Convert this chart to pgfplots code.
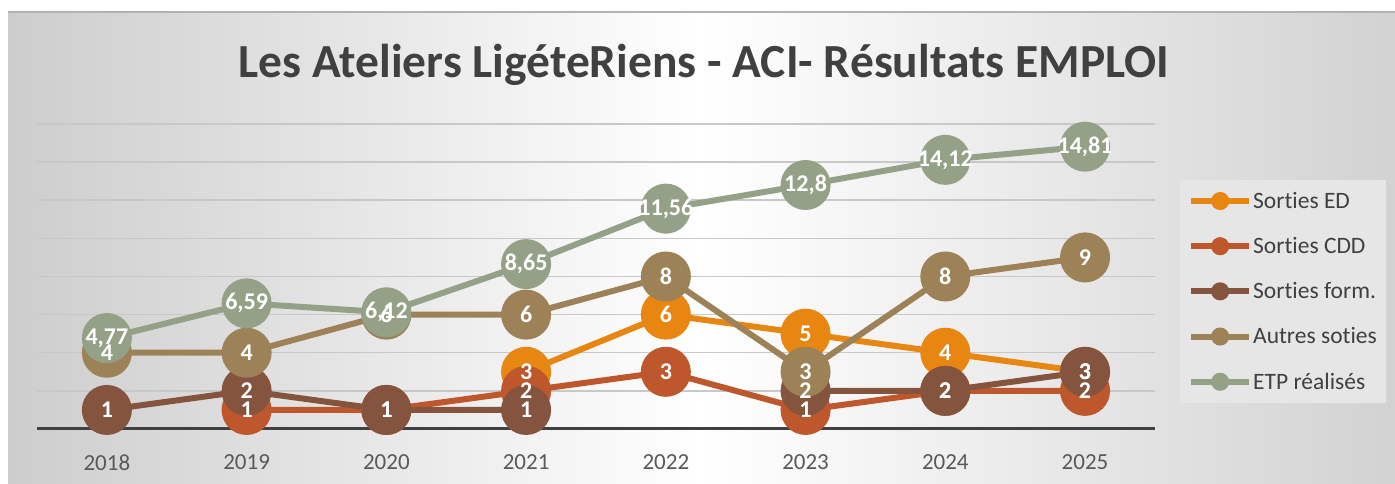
\documentclass[border=0pt]{standalone}
\usepackage{fontspec}
\setmainfont{Carlito}[Ligatures=NoCommon]
\usepackage{pgfplots}
\usepackage{pgfplotstable}
\pgfplotsset{compat=1.18}
\definecolor{cED}{RGB}{232,134,18}
\definecolor{cCDD}{RGB}{190,88,44}
\definecolor{cForm}{RGB}{133,84,62}
\definecolor{cAut}{RGB}{156,130,86}
\definecolor{cETP}{RGB}{148,161,135}
\definecolor{txt}{RGB}{64,64,64}
\definecolor{tickc}{RGB}{89,89,89}
\definecolor{bgl}{RGB}{205,205,205}
\definecolor{bgr}{RGB}{210,210,210}
\definecolor{legf}{RGB}{230,230,230}
\definecolor{gridc}{RGB}{200,200,200}
\pgfplotstableread{
x y
3 3
4 6
5 5
6 4
7 3
}\tED
\pgfplotstableread{
x y
1 1
2 1
3 2
4 3
5 1
6 2
7 2
}\tCDD
\pgfplotstableread{
x y
0 1
1 2
2 1
3 1
4 nan
5 2
6 2
7 3
}\tForm
\pgfplotstableread{
x y
0 4
1 4
2 6
3 6
4 8
5 3
6 8
7 9
}\tAut
\pgfplotstableread{
x y
0 4.77
1 6.59
2 6.12
3 8.65
4 11.56
5 12.8
6 14.12
7 14.81
}\tETP
\begin{document}
\begin{tikzpicture}
\useasboundingbox (0,0) rectangle (1395pt,484pt);
\fill[white] (0,0) rectangle (1395pt,484pt);
\shade[left color=bgl, right color=bgr, middle color=white] (8pt,0) rectangle (1395pt,472pt);
\draw[gray!60, line width=1.5pt] (8pt,472pt) -- (1395pt,472pt);
\node[font=\bfseries\fontsize{47.5}{56}\selectfont, text=txt] at (704pt,419pt) {Les Ateliers LigéteRiens - ACI- Résultats EMPLOI};
\begin{axis}[
  scale only axis, width=1118pt, height=305pt,
  at={(37pt,55pt)}, anchor=south west,
  xmin=-0.5, xmax=7.5, ymin=0, ymax=16,
  clip=false,
  axis x line*=bottom, axis y line*=left,
  x axis line style={draw=txt, line width=3pt, -},
  y axis line style={draw=none},
  xtick={0,...,7}, xticklabels={2018,2019,2020,2021,2022,2023,2024,2025},
  ytick={2,4,...,16}, yticklabels={},
  major tick length=0pt,
  ymajorgrids, grid style={draw=gridc, line width=1.5pt},
  xticklabel style={font=\fontsize{23}{27}\selectfont, text=tickc, yshift=-22pt},
  unbounded coords=jump,
  every axis plot/.append style={line width=6pt, mark=*, mark size=22pt, mark options={draw=none}},
  every node near coord/.append style={anchor=center, font=\bfseries\fontsize{24}{28}\selectfont, text=white},
  /pgf/number format/use comma, /pgf/number format/assume math mode=true,
  legend style={at={(1.0224,0.8164)}, anchor=north west, draw=none, fill=legf,
    font=\fontsize{23.5}{28}\selectfont, text=txt, row sep=23.5pt,
    inner xsep=8pt, inner ysep=10pt, nodes={inner xsep=1pt, inner ysep=2pt}},
  legend cell align=left,
  legend image code/.code={
    \draw[#1, mark size=6pt, mark repeat=2, mark phase=2] plot coordinates {(0pt,0pt) (29pt,0pt) (58pt,0pt)};
  },
]
\addplot[color=cED] table {\tED};
\addlegendentry{Sorties ED}
\addplot[color=cCDD] table {\tCDD};
\addlegendentry{Sorties CDD}
\addplot[color=cForm] table {\tForm};
\addlegendentry{Sorties form.}
\addplot[color=cAut] table {\tAut};
\addlegendentry{Autres soties}
\addplot[color=cETP] table {\tETP};
\addlegendentry{ETP réalisés}
% data labels drawn on top of all series
\addplot[draw=none, mark=none, nodes near coords, forget plot] table {\tED};
\addplot[draw=none, mark=none, nodes near coords, forget plot] table {\tCDD};
\addplot[draw=none, mark=none, nodes near coords, forget plot] table {\tForm};
\addplot[draw=none, mark=none, nodes near coords, forget plot] table {\tAut};
\addplot[draw=none, mark=none, nodes near coords, forget plot] table {\tETP};
\end{axis}
\end{tikzpicture}
\end{document}
